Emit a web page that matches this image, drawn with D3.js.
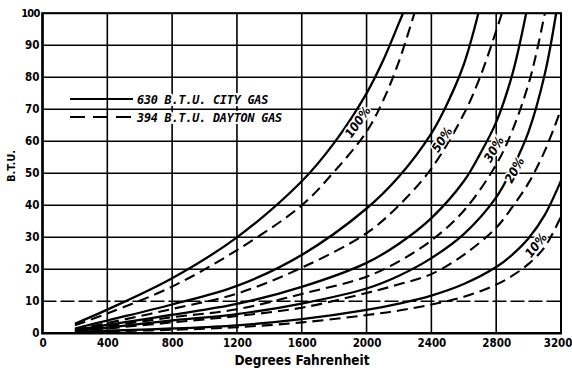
<!DOCTYPE html>
<html><head><meta charset="utf-8">
<script src="https://cdn.jsdelivr.net/npm/d3@7"></script>
<style>
html,body{margin:0;padding:0;background:#fff;}
svg{display:block;}
text{fill:#000;}
</style></head>
<body>
<svg id="c" width="572" height="368"></svg>
<script>
// ---- data ----
const xTicks = [0, 400, 800, 1200, 1600, 2000, 2400, 2800, 3200];
const yTicks = [0, 10, 20, 30, 40, 50, 60, 70, 80, 90, 100];
const legendLabels = ["630 B.T.U. CITY GAS", "394 B.T.U. DAYTON GAS"];
const percentLabels = ["100%", "50%", "30%", "20%", "10%"];

// [degrees F, B.T.U.]
const city100   = [[200,3],[400,7.4],[800,17.2],[1200,30],[1600,47.5],[1800,59.5],[2000,75],[2100,85],[2200,97],[2225,100]];
const dayton100 = [[200,2.5],[400,6.2],[800,14.6],[1200,26],[1600,40],[1800,50.5],[2000,63],[2100,72.5],[2200,85],[2295,100]];
const city50    = [[200,1.5],[400,4],[800,9],[1200,14.8],[1600,24.5],[2000,39],[2200,49],[2400,62.5],[2500,72],[2600,84],[2690,100]];
const dayton50  = [[200,1.2],[400,3.2],[800,7.6],[1200,12.4],[1600,20.5],[2000,31.3],[2200,40],[2400,51.5],[2600,68.5],[2700,80],[2800,94.5],[2835,100]];
const city30    = [[200,1.0],[400,2.6],[800,5.8],[1200,9.2],[1600,14.5],[2000,22],[2200,28],[2400,36],[2600,47.5],[2700,56],[2800,66],[2900,81],[2985,100]];
const dayton30  = [[200,0.9],[400,2.2],[800,5.0],[1200,7.5],[1600,12.3],[2000,17.7],[2200,22.5],[2400,29],[2600,38.3],[2800,52.7],[2900,63.4],[3000,78],[3050,88],[3100,100]];
const city20    = [[200,0.7],[400,1.8],[800,4.0],[1200,6.0],[1600,9.3],[2000,14],[2200,18],[2400,23.5],[2600,31],[2800,42.5],[2900,51.5],[3000,63],[3100,81],[3170,100]];
const dayton20  = [[200,0.6],[400,1.5],[800,3.4],[1200,5.4],[1600,8.0],[2000,12.6],[2200,15.3],[2400,18.5],[2600,24.5],[2800,33],[2900,39.5],[3000,47],[3100,57],[3200,70]];
const city10    = [[200,0.3],[400,0.8],[800,1.5],[1200,2.5],[1600,4.4],[2000,7.3],[2200,9.3],[2400,11.8],[2600,15.4],[2800,20.7],[2900,24.6],[3000,29.7],[3100,37],[3200,47.7]];
const dayton10  = [[200,0.2],[400,0.6],[800,1.1],[1200,1.9],[1600,3.4],[2000,5.7],[2200,7.1],[2400,9],[2600,11.4],[2800,15.2],[2900,18],[3000,21.7],[3100,27],[3200,36.5]];

// label anchor [degrees F, B.T.U., rotation]
const labelPos = [[1945,66,-55],[2465,60.5,-57],[2785,57.5,-60],[2912,51,-61],[3045,27.5,-52]];

// ---- drawing ----
const svg = d3.select("#c");
const x = d3.scaleLinear().domain([0, 3200]).range([42.5, 561]);
const y = d3.scaleLinear().domain([0, 100]).range([333.3, 13.3]);
const FONT = "'DejaVu Sans Condensed', 'DejaVu Sans', sans-serif";

// grid
const g = svg.append("g");
g.selectAll("line.v").data(xTicks).join("line")
  .attr("x1", d => x(d)).attr("x2", d => x(d))
  .attr("y1", y(0)).attr("y2", y(100))
  .attr("stroke", "#000").attr("stroke-width", 1.6);
g.selectAll("line.h").data(yTicks).join("line")
  .attr("x1", x(0)).attr("x2", x(3200))
  .attr("y1", d => y(d)).attr("y2", d => y(d))
  .attr("stroke", "#000").attr("stroke-width", 1.6)
  .attr("stroke-dasharray", d => d === 10 ? "14,4" : null);

// axes frame
svg.append("line").attr("x1", x(0)).attr("x2", x(0)).attr("y1", y(0)+1).attr("y2", y(100)-1)
  .attr("stroke", "#000").attr("stroke-width", 2.6);
svg.append("line").attr("x1", x(0)-1).attr("x2", x(3200)+1).attr("y1", y(0)).attr("y2", y(0))
  .attr("stroke", "#000").attr("stroke-width", 2.6);
svg.append("line").attr("x1", x(0)).attr("x2", x(3200)+1).attr("y1", y(100)).attr("y2", y(100))
  .attr("stroke", "#000").attr("stroke-width", 2);
svg.append("line").attr("x1", x(3200)).attr("x2", x(3200)).attr("y1", y(0)).attr("y2", y(100))
  .attr("stroke", "#000").attr("stroke-width", 2);

// tick labels via axes
const xAxis = svg.append("g").attr("transform", `translate(0,${y(0)})`)
  .call(d3.axisBottom(x).tickValues(xTicks).tickSize(0).tickPadding(6).tickFormat(d3.format("d")));
const yAxis = svg.append("g").attr("transform", `translate(${x(0)},0)`)
  .call(d3.axisLeft(y).tickValues(yTicks).tickSize(0).tickPadding(3).tickFormat(d3.format("d")));
[xAxis, yAxis].forEach(a => {
  a.select(".domain").remove();
  a.selectAll("text").attr("font-family", FONT)
    .attr("font-weight", "bold").attr("font-size", 11.5).attr("fill", "#000");
});
xAxis.selectAll(".tick text").filter(d => d === 3200).attr("text-anchor", "end").attr("dx", 11);
yAxis.selectAll(".tick text").filter(d => d === 100).attr("font-size", 11).attr("letter-spacing", -0.8);

// titles
svg.append("text").attr("x", 302).attr("y", 365).attr("text-anchor", "middle")
  .attr("font-family", FONT).attr("font-weight", "bold")
  .attr("font-size", 13.5).text("Degrees Fahrenheit");
svg.append("text").attr("transform", "translate(15,166) rotate(-90)").attr("text-anchor", "middle")
  .attr("font-family", FONT).attr("font-weight", "bold")
  .attr("font-size", 11).text("B.T.U.");

// curves
const line = d3.line().x(d => x(d[0])).y(d => y(d[1])).curve(d3.curveCatmullRom.alpha(0.5));
const solids = [city100, city50, city30, city20, city10];
const dashes = [dayton100, dayton50, dayton30, dayton20, dayton10];
const curves = svg.append("g");
curves.selectAll("path.s").data(solids).join("path")
  .attr("d", line).attr("fill", "none").attr("stroke", "#000").attr("stroke-width", 2.3);
curves.selectAll("path.d").data(dashes).join("path")
  .attr("d", line).attr("fill", "none").attr("stroke", "#000").attr("stroke-width", 2.1)
  .attr("stroke-dasharray", "11,6");

// percent labels
svg.append("g").selectAll("text").data(percentLabels).join("text")
  .attr("transform", (d, i) => `translate(${x(labelPos[i][0])},${y(labelPos[i][1])}) rotate(${labelPos[i][2]})`)
  .attr("text-anchor", "middle").attr("dy", "0.35em")
  .attr("font-family", FONT).attr("font-weight", "bold")
  .attr("font-style", "italic").attr("font-size", 12.5)
  .attr("stroke", "#fff").attr("stroke-width", 3).attr("paint-order", "stroke")
  .text(d => d);

// legend
const leg = svg.append("g");
leg.append("line").attr("x1", 70).attr("x2", 133).attr("y1", 99).attr("y2", 99)
  .attr("stroke", "#000").attr("stroke-width", 2.2);
leg.append("line").attr("x1", 70).attr("x2", 133).attr("y1", 117).attr("y2", 117)
  .attr("stroke", "#000").attr("stroke-width", 2.2).attr("stroke-dasharray", "15,8");
leg.selectAll("text").data(legendLabels).join("text")
  .attr("x", 137).attr("y", (d, i) => 103.5 + i * 18)
  .attr("font-family", "'DejaVu Sans Mono', monospace")
  .attr("font-style", "italic").attr("font-weight", "bold").attr("font-size", 11.8)
  .attr("letter-spacing", -0.2)
  .attr("stroke", "#fff").attr("stroke-width", 4).attr("paint-order", "stroke")
  .text(d => d);
</script>
</body></html>
